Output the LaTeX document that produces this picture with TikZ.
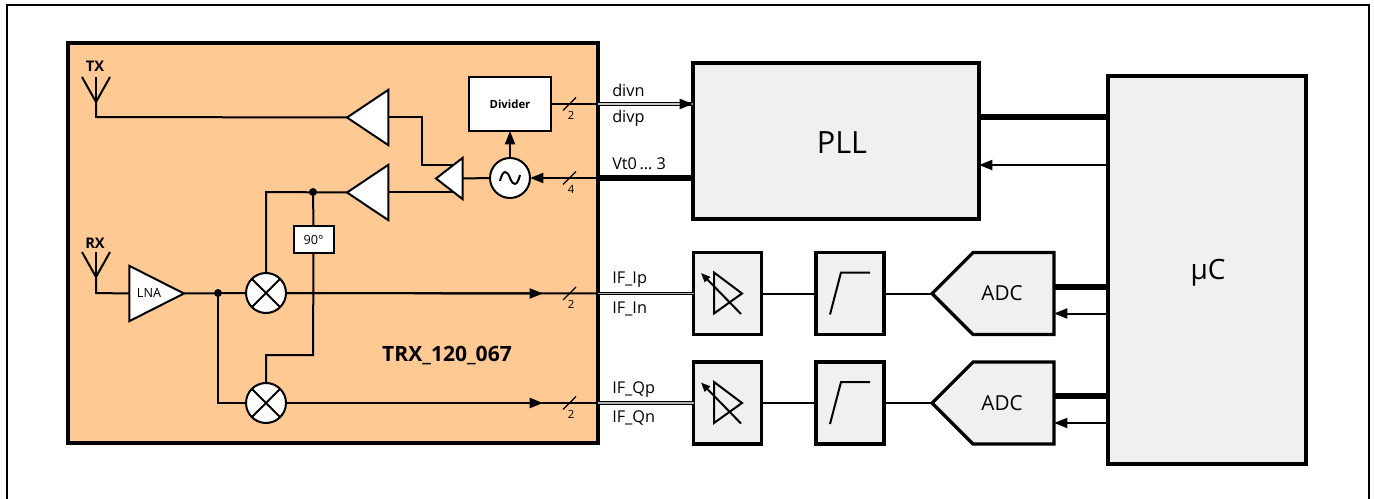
\documentclass[tikz,border=0pt]{standalone}
\usepackage{fontspec}
\setmainfont{Open Sans}
\usetikzlibrary{arrows.meta}
\usetikzlibrary{shapes.geometric}
\usetikzlibrary{shapes.symbols}
\definecolor{chipfill}{HTML}{FFC993}
\definecolor{blockfill}{HTML}{F0F0F0}
\tikzset{
  wire/.style={line width=1.5pt},
  sig/.style={wire, -{Triangle[length=10pt,width=7.5pt]}},
  thickbus/.style={line width=4.5pt},
  diffbus/.style={line width=.8pt, double=#1, double distance=1.1pt},
  block/.style={draw, line width=2.4pt, fill=blockfill, minimum width=51pt, minimum height=61.5pt, outer sep=0pt, inner sep=0pt},
  whitebox/.style={draw, line width=1.5pt, fill=white, outer sep=0pt, inner sep=0pt},
  amp/.style={draw, line width=1.5pt, fill=white, isosceles triangle, isosceles triangle stretches, shape border rotate=#1, outer sep=0pt, inner sep=0pt},
  ring/.style={draw, circle, line width=1.5pt, fill=white, minimum size=30pt, outer sep=0pt, inner sep=0pt},
  adc/.style={draw, line width=2.4pt, fill=blockfill, signal, signal to=west, signal from=nowhere, signal pointer angle=90, minimum width=91.5pt, minimum height=61.5pt, outer sep=0pt, inner sep=0pt},
  lbl/.style={font=\fontsize{12.2}{14}\selectfont, inner sep=0pt},
  buswidth/.style={font=\fontsize{8.5}{10}\selectfont, inner sep=0pt}
}
\begin{document}
\begin{tikzpicture}[x=.75pt, y=-.75pt]
    \useasboundingbox (0,0) rectangle (1374,499);
    \fill[white] (0,0) rectangle (1374,499);
    \draw[line width=1.5pt] (7,499) -- (7,5) -- (1369,5) -- (1369,499);
    % transceiver
    \node[draw, line width=3pt, fill=chipfill, minimum width=397.5pt, minimum height=300pt, inner sep=0pt, outer sep=0pt] (trx) at (333,243) {};
    \node[font=\fontsize{15.8}{18}\bfseries\selectfont, inner sep=0pt] (trxname) at (447,356) {TRX\_120\_067};
    % right hand blocks
    \node[block, minimum width=214.5pt, minimum height=117pt] (pll) at (836,141) {};
    \node[font=\fontsize{23}{26}\selectfont, inner sep=0pt] (pllname) at (842,143) {PLL};
    \node[block, minimum width=148.5pt, minimum height=291pt] (uc) at (1207,270) {};
    \node[font=\fontsize{21}{24}\selectfont, inner sep=0pt] (ucname) at (1208,273) {µC};
    % antennas
    \node[font=\fontsize{11}{13}\bfseries\selectfont, inner sep=0pt] (txlabel) at (95,66) {TX};
    \node[font=\fontsize{11}{13}\bfseries\selectfont, inner sep=0pt] (rxlabel) at (95,243) {RX};
    \coordinate (txant) at (96,102);
    \coordinate (rxant) at (96,277);
    \foreach \n in {txant,rxant} {
      \draw[wire] (\n) -- +(-14,-25);
      \draw[wire] (\n) -- +(14,-25);
      \draw[wire] (\n) -- +(0,-25);
    }
    % wires below the triangles
    \coordinate (txbend) at (422,117);
    \coordinate (drvbend) at (422,165);
    \coordinate (lodot) at (313,192);
    \coordinate (lobend) at (266,192);
    \coordinate (rxdot) at (218,293);
    \coordinate (qbend) at (218,403);
    \coordinate (shiftbend) at (313,355);
    \coordinate (shiftend) at (266,355);
    \coordinate (txpa) at (388,117);
    \coordinate (txdrv) at (455,165);
    \coordinate (lopa) at (388,192);
    \coordinate (lodrv) at (455,192);
    \draw[wire] (txpa) -- (txbend) -- (drvbend) -- (txdrv);
    \draw[wire] (lopa) -- (lodrv);
    % amplifiers
    \node[amp=180, minimum height=31pt, minimum width=41.5pt, anchor=apex] (pa) at (347,117.5) {};
    \node[amp=180, minimum height=31pt, minimum width=41.5pt, anchor=apex] (lobuf) at (347,192.5) {};
    \node[amp=180, minimum height=20pt, minimum width=31pt, anchor=apex] (drv) at (436,178.5) {};
    \node[amp=0, minimum height=41pt, minimum width=41.5pt, anchor=apex] (lna) at (184,293.5) {};
    \node[font=\fontsize{9.5}{11}\selectfont, inner sep=0pt] (lnaname) at (149,293) {LNA};
    \draw[wire] (txant) -- (96,117) -- (pa.apex);
    \draw[wire] (rxant) -- (96,293) -- (lna.west);
    % oscillator and divider
    \node[ring] (osc) at (510,178) {};
    \draw[wire, shift={(osc.center)}] (-10,3) .. controls (-7,-9) and (-3,-8) .. (0,0) .. controls (3,8) and (7,9) .. (10,-3);
    \node[whitebox, minimum width=61.5pt, minimum height=40.5pt, font=\fontsize{8.5}{10}\bfseries\selectfont] (divider) at (510,104) {Divider};
    \draw[wire] (drv.east) -- (osc.west);
    \draw[sig] (osc.north) -- (divider.south);
    \coordinate (vtin) at (598,178);
    \coordinate (divout) at (598,104);
    \draw[sig] (vtin) -- (osc.east);
    \draw[wire] (divider.east) -- (divout);
    % mixers
    \node[ring] (mixi) at (266,293) {};
    \node[ring] (mixq) at (266,403) {};
    \foreach \n in {mixi,mixq} {
      \draw[wire] (\n.45) -- (\n.225);
      \draw[wire] (\n.135) -- (\n.315);
    }
    \node[whitebox, minimum width=30pt, minimum height=20pt, font=\fontsize{9.5}{11}\selectfont] (shift) at (313.5,239.5) {90°};
    \draw[wire] (lna.apex) -- (mixi.west);
    \draw[wire] (rxdot) -- (qbend) -- (mixq.west);
    \draw[wire] (mixi.north) -- (lobend) -- (lobuf.apex);
    \draw[wire] (lodot) -- (shift.north);
    \draw[wire] (shift.south) -- (shiftbend) -- (shiftend) -- (mixq.north);
    \fill (rxdot) circle (3pt);
    \fill (lodot) circle (3pt);
    % IF chains
    \foreach \n/\y/\p/\m in {i/293.5/IF\_Ip/IF\_In,q/403/IF\_Qp/IF\_Qn} {
      \node[block] (vga\n) at (727.5,\y) {};
      \node[block] (flt\n) at (850,\y) {};
      \node[adc, anchor=west] (adc\n) at (932,\y) {};
      \node[font=\fontsize{15.5}{18}\selectfont, inner sep=0pt] (adcname\n) at (1002,\y) {ADC};
      \draw[wire, shift={(vga\n.center)}] (-13.5,-21) -- (-13.5,20) -- (14.5,0) -- cycle;
      \draw[wire, shift={(vga\n.center)}, -{Triangle[length=7pt,width=5.5pt]}] (13.5,20.5) -- (-26.5,-20.5);
      \draw[wire, shift={(flt\n.center)}] (-20,21) -- (-9,-21) -- (20,-21);
      \draw[wire] (vga\n.east) -- (flt\n.west);
      \draw[wire] (flt\n.east) -- (adc\n.west);
      \coordinate (ifarrow\n) at (543,\y);
      \coordinate (ifout\n) at (598,\y);
      \draw[wire] (mix\n.east) -- (ifout\n);
      \draw[sig] (mix\n.east) -- (ifarrow\n);
      \draw[diffbus=gray!60] (ifout\n) -- (vga\n.west);
      \node[lbl, anchor=west] (iflabel\n p) at (612,\y-13.5) {\p};
      \node[lbl, anchor=west] (iflabel\n m) at (612,\y+15) {\m};
      \coordinate (adcbus\n) at (adc\n.east |- 0,\y-7);
      \coordinate (adcctl\n) at (adc\n.east |- 0,\y+20);
      \draw[thickbus] (adcbus\n) -- (uc.west |- adcbus\n);
      \draw[sig] (uc.west |- adcctl\n) -- (adcctl\n);
    }
    % bus widths
    \foreach \n/\y/\w in {divbus/104/2,vtbus/178/4,ibus/293.5/2,qbus/403/2} {
      \coordinate (\n) at (569.5,\y);
      \draw[line width=1pt] (\n) +(-6.5,6.5) -- +(6.5,-6.5);
      \node[buswidth] (\n width) at (571,\y+11) {\w};
    }
    % PLL connections
    \draw[diffbus=gray!40] (divout) -- (pll.west |- divout);
    \coordinate (divhead) at (680,104);
    \draw[sig] (divhead) -- (pll.west |- divhead);
    \draw[thickbus] (vtin) -- (pll.west |- vtin);
    \node[lbl, anchor=west] (divnlabel) at (612,90) {divn};
    \node[lbl, anchor=west] (divplabel) at (612,118) {divp};
    \node[lbl, anchor=west] (vtlabel) at (612,164) {Vt0\,… 3};
    \coordinate (pllbus) at (979,117);
    \coordinate (pllctl) at (979,165);
    \draw[thickbus] (pllbus) -- (uc.west |- pllbus);
    \draw[sig] (uc.west |- pllctl) -- (pllctl);
  \end{tikzpicture}
\end{document}
